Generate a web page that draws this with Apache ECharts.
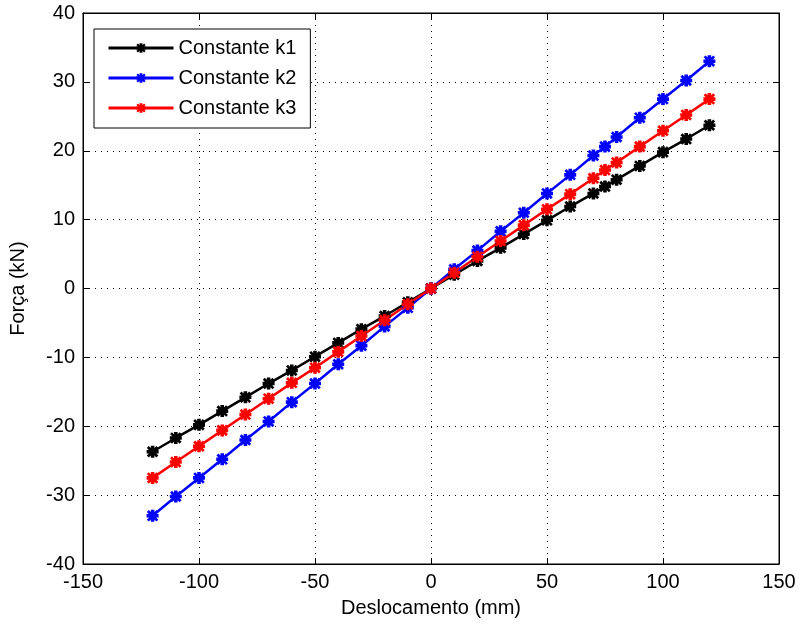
<!DOCTYPE html>
<html>
<head>
<meta charset="utf-8">
<script src="https://cdn.jsdelivr.net/npm/echarts@6/dist/echarts.min.js"></script>
<style>
  html, body { margin: 0; padding: 0; background: #fff; }
  #chart { width: 799px; height: 628px; }
</style>
</head>
<body>
<div id="chart"></div>
<script>
// deslocamento (mm)
var deslocamento = [-120, -110, -100, -90, -80, -70, -60, -50, -40, -30, -20, -10, 0,
  10, 20, 30, 40, 50, 60, 70, 75, 80, 90, 100, 110, 120];
// força (kN) por constante
var k1 = [-23.7, -21.7, -19.8, -17.8, -15.8, -13.8, -11.9, -9.9, -7.9, -5.9, -4.0, -2.0, 0,
  2.0, 4.0, 5.9, 7.9, 9.9, 11.9, 13.8, 14.8, 15.8, 17.8, 19.8, 21.7, 23.7];
var k2 = [-33.0, -30.2, -27.5, -24.8, -22.0, -19.3, -16.5, -13.8, -11.0, -8.3, -5.5, -2.8, 0,
  2.8, 5.5, 8.3, 11.0, 13.8, 16.5, 19.3, 20.6, 22.0, 24.8, 27.5, 30.2, 33.0];
var k3 = [-27.5, -25.2, -22.9, -20.6, -18.3, -16.0, -13.7, -11.5, -9.2, -6.9, -4.6, -2.3, 0,
  2.3, 4.6, 6.9, 9.2, 11.5, 13.7, 16.0, 17.2, 18.3, 20.6, 22.9, 25.2, 27.5];
var nomes = ["Constante k1", "Constante k2", "Constante k3"];
var cores = ["#000000", "#0000ff", "#ff0000"];

// marcador "*" do matlab, desenhado grosso
var asterisco = "path://M0,3.5L10,3.5L10,6.5L0,6.5Z M3.5,0L6.5,0L6.5,10L3.5,10Z " +
  "M1.8,0.2L9.8,8.2L8.2,9.8L0.2,1.8Z M8.2,0.2L9.8,1.8L1.8,9.8L0.2,8.2Z";
var fonte = "'Liberation Sans', Arial, sans-serif";

var myChart = echarts.init(document.getElementById("chart"));

function pares(ys) {
  var out = [];
  for (var i = 0; i < deslocamento.length; i++) out.push([deslocamento[i], ys[i]]);
  return out;
}

var dados = [k1, k2, k3];
var series = [];
for (var i = 0; i < nomes.length; i++) {
  series.push({
    name: nomes[i],
    type: "line",
    data: pares(dados[i]),
    symbol: asterisco,
    symbolSize: 12,
    showAllSymbol: true,
    lineStyle: { color: cores[i], width: 2.5 },
    itemStyle: { color: cores[i] },
    animation: false
  });
}

var eixoX = {
  type: "value",
  min: -150, max: 150, interval: 50,
  axisLine: { show: true, onZero: false, lineStyle: { color: "#000" } },
  axisTick: { show: true, inside: true, length: 6, lineStyle: { color: "#000" } },
  axisLabel: { color: "#000", fontSize: 20, fontFamily: fonte, margin: 8 },
  splitLine: { show: true, lineStyle: { color: "#000", type: [1, 5], width: 1 } }
};
var eixoY = {
  type: "value",
  min: -40, max: 40, interval: 10,
  axisLine: { show: true, onZero: false, lineStyle: { color: "#000" } },
  axisTick: { show: true, inside: true, length: 6, lineStyle: { color: "#000" } },
  axisLabel: { color: "#000", fontSize: 20, fontFamily: fonte, margin: 8 },
  splitLine: { show: true, lineStyle: { color: "#000", type: [1, 5], width: 1 } }
};

var option = {
  backgroundColor: "#fff",
  animation: false,
  grid: { left: 81, right: 20, top: 13, bottom: 64, show: true, borderColor: "#000", borderWidth: 1, backgroundColor: "#fff" },
  legend: {
    data: nomes,
    orient: "vertical",
    left: 94, top: 29,
    padding: [9, 14, 10, 13],
    itemWidth: 65, itemHeight: 12, itemGap: 10,
    backgroundColor: "#fff",
    borderColor: "#000", borderWidth: 1,
    lineStyle: { width: 3 },
    textStyle: { color: "#000", fontSize: 20, fontFamily: fonte, lineHeight: 20 }
  },
  xAxis: [
    Object.assign({}, eixoX, {
      position: "bottom",
      name: "Deslocamento (mm)",
      nameLocation: "middle",
      nameGap: 34,
      nameTextStyle: { color: "#000", fontSize: 20, fontFamily: fonte }
    }),
    Object.assign({}, eixoX, { position: "top", axisLabel: { show: false }, splitLine: { show: false } })
  ],
  yAxis: [
    Object.assign({}, eixoY, {
      position: "left",
      name: "Força (kN)",
      nameLocation: "middle",
      nameGap: 55,
      nameTextStyle: { color: "#000", fontSize: 20, fontFamily: fonte }
    }),
    Object.assign({}, eixoY, { position: "right", axisLabel: { show: false }, splitLine: { show: false } })
  ],
  series: series
};

myChart.setOption(option, true);
</script>
</body>
</html>
